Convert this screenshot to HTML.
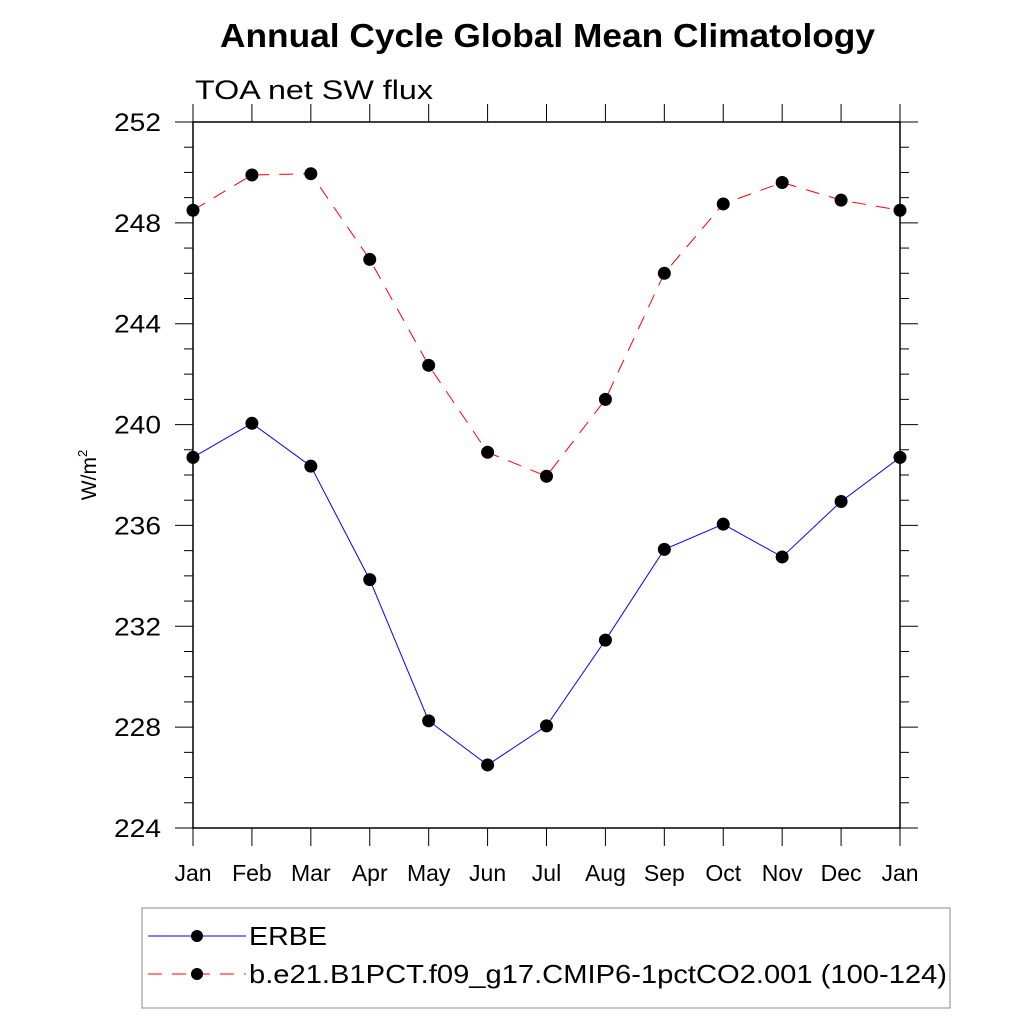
<!DOCTYPE html>
<html><head><meta charset="utf-8"><style>body{margin:0;background:#fff}svg{display:block}</style></head>
<body>
<svg id="chart" width="1024" height="1024" xmlns="http://www.w3.org/2000/svg" font-family="Liberation Sans, sans-serif">
<text x="220" y="47" font-size="33" font-weight="bold" textLength="655" lengthAdjust="spacingAndGlyphs">Annual Cycle Global Mean Climatology</text>
<text x="195" y="99" font-size="27" textLength="238" lengthAdjust="spacingAndGlyphs">TOA net SW flux</text>
<text transform="translate(96,475) rotate(-90)" font-size="21" text-anchor="middle">W/m<tspan font-size="13" dy="-9">2</tspan></text>
<g id="axes"></g>
<g id="series"></g>
<rect x="142" y="908" width="808" height="100" fill="none" stroke="#888" stroke-width="1"/>
<g>
<line x1="148" y1="936" x2="246" y2="936" stroke="#0000ff" stroke-width="1"/>
<circle cx="197" cy="936" r="6" fill="#000"/>
<text x="249" y="945" font-size="26" textLength="78" lengthAdjust="spacingAndGlyphs">ERBE</text></g>
<g>
<line x1="148" y1="974" x2="246" y2="974" stroke="#ff0000" stroke-width="1" stroke-dasharray="14,10"/>
<circle cx="197" cy="974" r="6" fill="#000"/>
<text x="249" y="983" font-size="26" textLength="698" lengthAdjust="spacingAndGlyphs">b.e21.B1PCT.f09_g17.CMIP6-1pctCO2.001 (100-124)</text></g>
</svg>
<script>
const months=["Jan","Feb","Mar","Apr","May","Jun","Jul","Aug","Sep","Oct","Nov","Dec","Jan"];
const erbe=[238.7,240.05,238.35,233.85,228.25,226.5,228.05,231.45,235.05,236.05,234.75,236.95,238.7];
const model=[248.5,249.9,249.95,246.55,242.35,238.9,237.95,241.0,246.0,248.75,249.6,248.9,248.5];
const yTicks=[224,228,232,236,240,244,248,252];
const NS="http://www.w3.org/2000/svg";
const X0=193,X1=900,Y0=828,Y1=122,YMIN=224,YMAX=252;
const xs=i=>X0+(X1-X0)*i/(months.length-1);
const ys=v=>Y0-(v-YMIN)/(YMAX-YMIN)*(Y0-Y1);
function mk(tag,attrs,parent){const e=document.createElementNS(NS,tag);for(const k in attrs)e.setAttribute(k,attrs[k]);parent.appendChild(e);return e;}
const ax=document.getElementById('axes');
const frame=mk('rect',{x:X0,y:Y1,width:X1-X0,height:Y0-Y1,fill:'none',stroke:'#000','stroke-width':1.5},ax);


for(let v=YMIN;v<=YMAX;v++){
  const y=ys(v),maj=(v%4===0);
  const l=mk('line',{x1:X0-(maj?18:9),y1:y,x2:X0,y2:y,stroke:'#000','stroke-width':1},ax);
  
  
  mk('line',{x1:X1,y1:y,x2:X1+(maj?18:9),y2:y,stroke:'#000','stroke-width':1},ax);
}
yTicks.forEach(v=>{
  const t=mk('text',{x:161,y:ys(v)+9,'font-size':25,'text-anchor':'end',textLength:47,lengthAdjust:'spacingAndGlyphs'},ax);t.textContent=v;
  
  
});
months.forEach((m,i)=>{
  const x=xs(i);
  mk('line',{x1:x,y1:Y0,x2:x,y2:Y0+18,stroke:'#000','stroke-width':1},ax);
  mk('line',{x1:x,y1:Y1-18,x2:x,y2:Y1,stroke:'#000','stroke-width':1},ax);
  const t=mk('text',{x:x,y:881,'font-size':23,'text-anchor':'middle'},ax);t.textContent=m;
  
  
});
const sg=document.getElementById('series');
function series(vals,color,dash,name){
  const pts=vals.map((v,i)=>xs(i)+','+ys(v)).join(' ');
  const p=mk('polyline',{points:pts,fill:'none',stroke:color,'stroke-width':1,'stroke-dasharray':dash},sg);
  
  
  vals.forEach((v,i)=>{
    const c=mk('circle',{cx:xs(i),cy:ys(v),r:6.5,fill:'#000'},sg);
    
    
  });
}
series(erbe,'#0000ff','none','erbe');
series(model,'#ff0000','14,10','model');
</script>
</body></html>
